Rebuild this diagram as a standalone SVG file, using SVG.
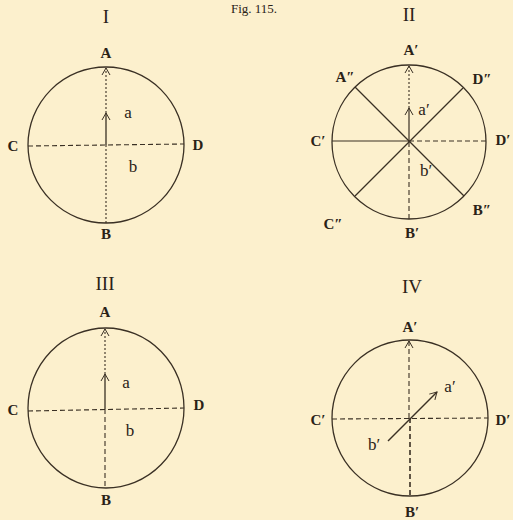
<svg xmlns="http://www.w3.org/2000/svg" width="513" height="520" viewBox="0 0 513 520">
<defs>
<marker id="arr" viewBox="0 0 10 10" refX="9" refY="5" markerWidth="10" markerHeight="10" markerUnits="userSpaceOnUse" orient="auto">
<path d="M2,1 L9,5 L2,9" fill="none" stroke="#3a3024" stroke-width="1"/>
</marker>
</defs>
<style>
.bg{fill:#fcf0cd}
.c{fill:none;stroke:#3a3024;stroke-width:1.3}
.s{stroke:#3a3024;stroke-width:1.2;fill:none}
.d{stroke:#3a3024;stroke-width:1.1;stroke-dasharray:5 3;fill:none}
.dt{stroke:#3a3024;stroke-width:1.1;stroke-dasharray:2 2;fill:none}
.t{font-family:"Liberation Serif",serif;fill:#2a2217;text-anchor:middle}
.rn{font-size:19px}
.L{font-size:15px;font-weight:bold}
.l{font-size:17px}
</style>
<rect class="bg" x="0" y="0" width="513" height="520"/>
<text class="t" x="254" y="13" font-size="13px">Fig. 115.</text>

<g id="fig1">
<circle class="c" cx="106" cy="145" r="78"/>
<text class="t rn" x="106" y="23">I</text>
<text class="t L" x="106" y="58">A</text>
<text class="t L" x="13" y="151">C</text>
<text class="t L" x="198" y="150">D</text>
<text class="t L" x="106" y="239">B</text>
<text class="t l" x="128" y="118">a</text>
<text class="t l" x="133" y="172">b</text>
</g>

<g id="fig2">
<circle class="c" cx="409" cy="142" r="77"/>
<text class="t rn" x="409" y="21">II</text>
<text class="t L" x="411" y="55">A′</text>
<text class="t L" x="345" y="82">A″</text>
<text class="t L" x="482" y="84">D″</text>
<text class="t L" x="318" y="146">C′</text>
<text class="t L" x="503" y="145">D′</text>
<text class="t L" x="333" y="229">C″</text>
<text class="t L" x="412" y="238">B′</text>
<text class="t L" x="482" y="215">B″</text>
<text class="t l" x="424" y="115">a′</text>
<text class="t l" x="426" y="176">b′</text>
</g>

<g id="fig3">
<ellipse class="c" cx="106" cy="408" rx="78" ry="80"/>
<text class="t rn" x="105" y="290">III</text>
<text class="t L" x="105" y="317">A</text>
<text class="t L" x="13" y="415">C</text>
<text class="t L" x="199" y="410">D</text>
<text class="t L" x="106" y="505">B</text>
<text class="t l" x="126" y="388">a</text>
<text class="t l" x="130" y="436">b</text>
</g>

<g id="fig4">
<circle class="c" cx="410" cy="418" r="78"/>
<text class="t rn" x="412" y="293">IV</text>
<text class="t L" x="410" y="332">A′</text>
<text class="t L" x="318" y="425">C′</text>
<text class="t L" x="503" y="425">D′</text>
<text class="t L" x="412" y="517">B′</text>
<text class="t l" x="450" y="392">a′</text>
<text class="t l" x="374" y="450">b′</text>
</g>

<g id="connectors">
<!-- fig I -->
<line class="d" x1="28" y1="146" x2="184" y2="144"/>
<line class="s" x1="106" y1="145" x2="106" y2="113" marker-end="url(#arr)" style="stroke-width:1.3"/>
<line class="dt" x1="106" y1="113" x2="106" y2="68" marker-end="url(#arr)"/>
<line class="dt" x1="106" y1="145" x2="106" y2="223"/>
<!-- fig II -->
<line class="s" x1="355" y1="87" x2="464" y2="196"/>
<line class="s" x1="463" y1="88" x2="355" y2="196"/>
<line class="s" x1="332" y1="141" x2="409" y2="141"/>
<line class="d" x1="409" y1="141" x2="486" y2="141"/>
<line class="s" x1="409" y1="142" x2="409" y2="108" marker-end="url(#arr)"/>
<line class="dt" x1="409" y1="108" x2="409" y2="66" marker-end="url(#arr)"/>
<line class="d" x1="409" y1="142" x2="409" y2="219"/>
<!-- fig III -->
<line class="d" x1="28" y1="411" x2="184" y2="408"/>
<line class="s" x1="105" y1="409" x2="105" y2="374" marker-end="url(#arr)" style="stroke-width:1.3"/>
<line class="dt" x1="105" y1="374" x2="105" y2="329" marker-end="url(#arr)"/>
<line class="d" x1="105" y1="409" x2="105" y2="488"/>
<!-- fig IV -->
<line class="d" x1="332" y1="419" x2="488" y2="418"/>
<line class="d" x1="409" y1="418" x2="409" y2="341" marker-end="url(#arr)"/>
<line class="d" x1="410" y1="418" x2="410" y2="497" style="stroke-width:1.6"/>
<line class="s" x1="388" y1="441" x2="437" y2="392" marker-end="url(#arr)" style="stroke-width:1.5"/>
</g>
</svg>
